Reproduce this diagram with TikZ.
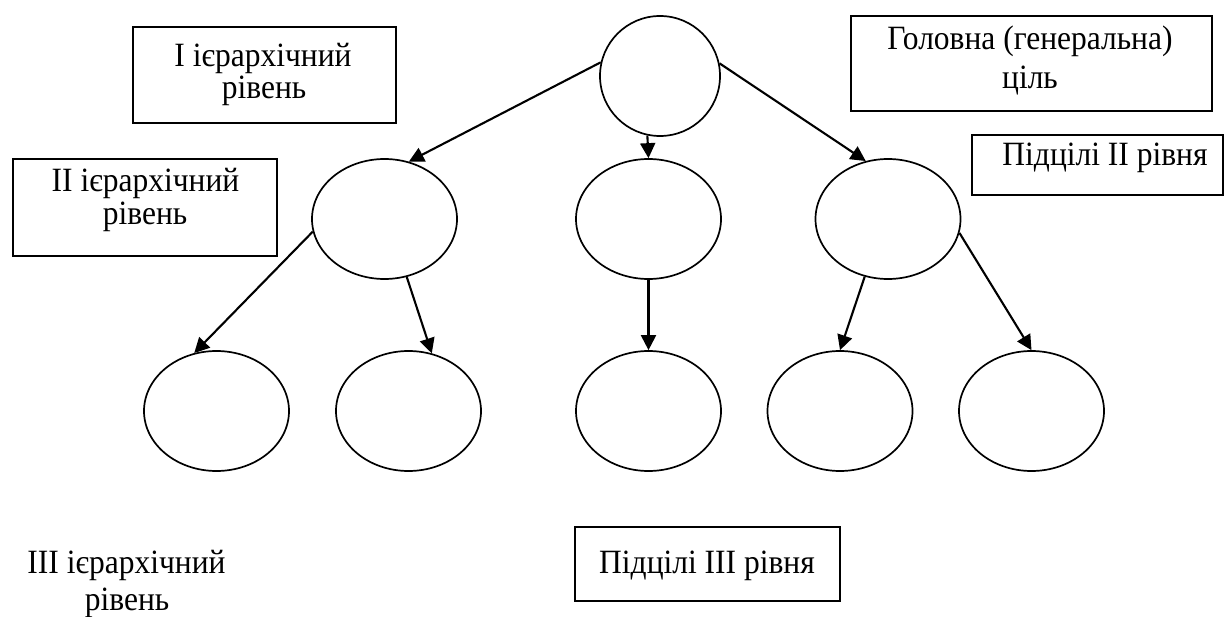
\documentclass[tikz,border=0pt]{standalone}
\usepackage{fontspec}
\usepackage{graphicx}
\setmainfont{Liberation Serif}
\usetikzlibrary{shapes.geometric,arrows.meta}
\newcommand{\tallstr}[1]{\scalebox{1}[1.08]{#1}}
\begin{document}
\begin{tikzpicture}[x=1pt,y=-1pt,
  goal/.style={draw,ellipse,line width=1.7pt,inner sep=0pt,minimum width=145pt,minimum height=120pt},
  topgoal/.style={draw,circle,line width=1.7pt,inner sep=0pt,minimum size=120pt},
  lvlbox/.style={draw,rectangle,line width=1.7pt,inner sep=0pt},
  lbl/.style={font=\fontsize{31.5}{36}\selectfont,anchor=base,inner sep=0pt},
  arr/.style={line width=2.1pt,-{Triangle[length=15pt,width=15pt]}}]
\useasboundingbox (0,0) rectangle (1225,617);
% boxes
\node[lvlbox,minimum width=263pt,minimum height=96pt] (bI) at (264.5,75) {};
\node[lvlbox,minimum width=361pt,minimum height=95pt] (bGoal) at (1031.5,63.5) {};
\node[lvlbox,minimum width=251pt,minimum height=60pt] (bSub2) at (1097.5,165) {};
\node[lvlbox,minimum width=264pt,minimum height=97pt] (bII) at (145,207.5) {};
\node[lvlbox,minimum width=265pt,minimum height=74pt] (bSub3) at (707.5,564) {};
% labels
\node[lbl] (tI1) at (263,67) {\tallstr{І ієрархічний}};
\node[lbl] (tI2) at (264,99) {\tallstr{рівень}};
\node[lbl] (tG1) at (1030,50) {\tallstr{Головна (генеральна)}};
\node[lbl] (tG2) at (1030,89) {\tallstr{ціль}};
\node[lbl] (tS2) at (1105,166) {\tallstr{Підцілі II рівня}};
\node[lbl] (tII1) at (145.5,192) {\tallstr{II ієрархічний}};
\node[lbl] (tII2) at (145,225) {\tallstr{рівень}};
\node[lbl] (tS3) at (707,573) {\tallstr{Підцілі III рівня}};
\node[lbl] (tIII1) at (126.5,573) {\tallstr{III ієрархічний}};
\node[lbl] (tIII2) at (127,610) {\tallstr{рівень}};
% goals
\node[topgoal] (t) at (660,76) {};
\node[goal] (la) at (384.5,219) {};
\node[goal] (lb) at (648.5,219) {};
\node[goal] (lc) at (888,219) {};
\node[goal] (g1) at (216.5,411) {};
\node[goal] (g2) at (408.5,411) {};
\node[goal] (g3) at (648.5,411) {};
\node[goal] (g4) at (840,411) {};
\node[goal] (g5) at (1031.5,411) {};
% arrows
\draw[arr] (t.167.8) -- (la.67);
\draw[arr] (t.258.7) -- (lb.north);
\draw[arr] (t.12.2) -- (lc.111.8);
\draw[arr] (la.190) -- (g1.111.4);
\draw[arr] (la.291) -- (g2.68.6);
\draw[arr] (lb.south) -- (g3.north);
\draw[arr] (lc.248.5) -- (g4.north);
\draw[arr] (lc.349.6) -- (g5.north);
\end{tikzpicture}
\end{document}
